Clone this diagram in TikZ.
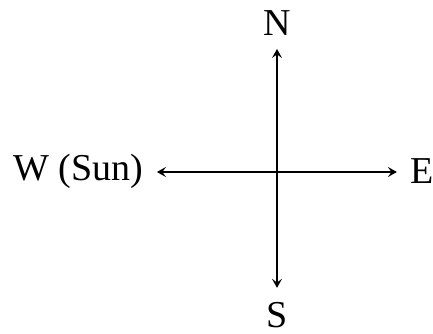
\documentclass[tikz,border=0pt]{standalone}
\usepackage{fontspec}
\setmainfont{Liberation Serif}
\usetikzlibrary{arrows.meta}
\begin{document}
\begin{tikzpicture}[x=0.5pt, y=-0.5pt, every node/.style={font=\fontsize{19}{23}\selectfont},
    dir/.style={inner sep=0pt, outer sep=7pt},
    axis/.style={{Stealth[length=4.5pt,width=5pt,inset=1.8pt]}-{Stealth[length=4.5pt,width=5pt,inset=1.8pt]}, line width=1pt}]
        \useasboundingbox (0,0) rectangle (433,333);

        % Centro
        \coordinate (O) at (277,172);

        % Punti cardinali
        \node[dir, anchor=base] (N) at (277,35) {N};
        \node[dir, anchor=base] (S) at (277,327) {S};
        \node[dir, anchor=base] (W) at (78,180) {W (Sun)};
        \node[dir, anchor=base] (E) at (422.5,183) {E};

        % Assi
        \draw[axis] (N) -- (S);
        \draw[axis] (W.east |- O) -- (E.west |- O);

    \end{tikzpicture}
\end{document}
